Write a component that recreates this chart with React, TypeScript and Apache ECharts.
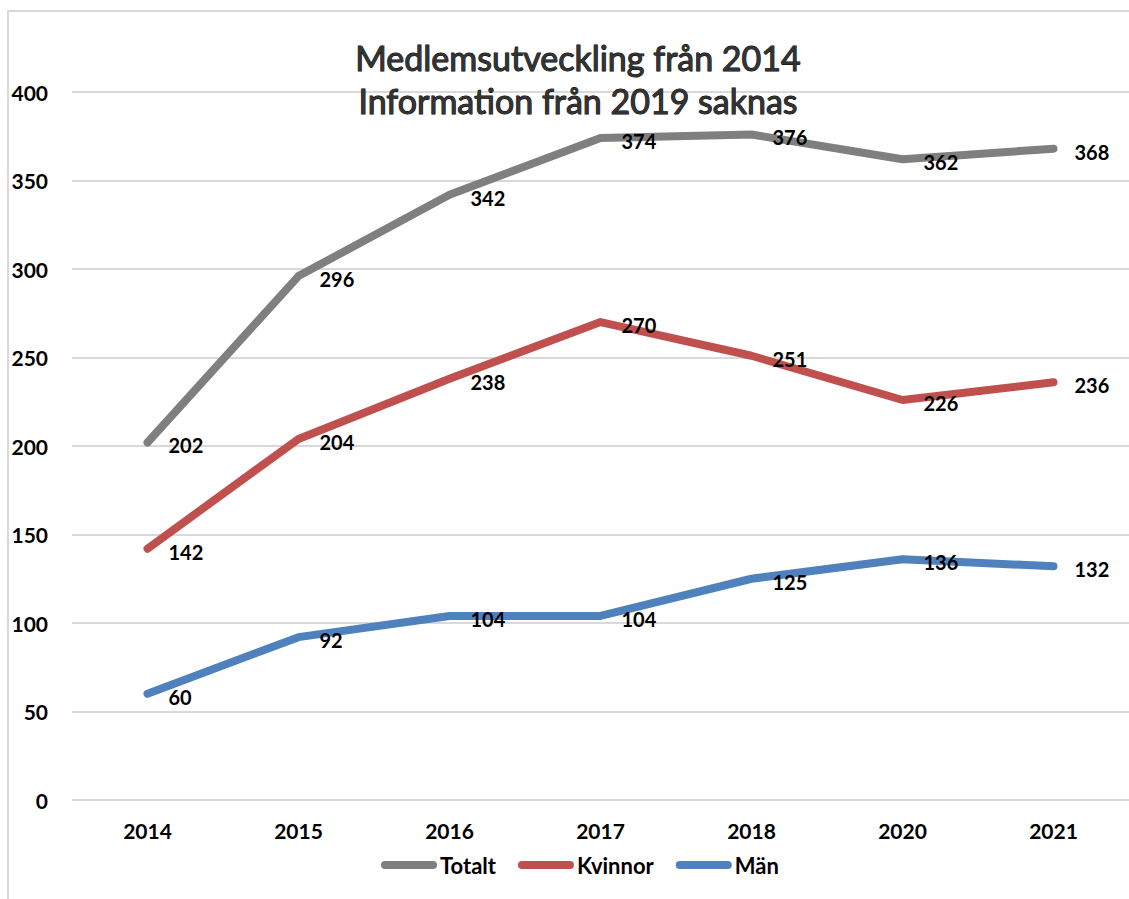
import React, { useEffect, useRef } from "react";
import * as echarts from "echarts";

const years = ["2014", "2015", "2016", "2017", "2018", "2020", "2021"];
const totalt = [202, 296, 342, 374, 376, 362, 368];
const kvinnor = [142, 204, 238, 270, 251, 226, 236];
const man = [60, 92, 104, 104, 125, 136, 132];

const FONT = "Lato, 'Noto Sans', sans-serif";

export default function App() {
  const ref = useRef<HTMLDivElement>(null);
  useEffect(() => {
    if (!ref.current) return;
    const chart = echarts.init(ref.current, null, { renderer: "svg" });
    const mk = (name: string, data: number[], color: string) => ({
      name,
      type: "line",
      data,
      symbol: "circle",
      symbolSize: 0,
      showSymbol: true,
      lineStyle: { color, width: 8, cap: "round", join: "round" },
      itemStyle: { color },
      label: {
        show: true,
        position: "right",
        distance: 21,
        offset: [0, 3],
        color: "#000",
        fontFamily: FONT,
        fontWeight: "bold",
        fontSize: 20,
      },
    });
    chart.setOption({
      animation: false,
      backgroundColor: "#fff",
      title: {
        text: "Medlemsutveckling från 2014\nInformation från 2019 saknas",
        left: 573,
        textAlign: "center",
        top: 31,
        textStyle: {
          fontFamily: FONT,
          fontWeight: "normal",
          fontSize: 34,
          lineHeight: 43,
          color: "#333",
          textBorderColor: "#000",
          textBorderWidth: 1,
        },
      },
      legend: {
        bottom: 18,
        left: 376,
        itemWidth: 56,
        itemHeight: 8,
        itemGap: 22,
        icon: "path://M4,0 H52 A4,4 0 0 1 52,8 H4 A4,4 0 0 1 4,0 Z",
        textStyle: { fontFamily: FONT, fontWeight: "bold", fontSize: 22, color: "#000", padding: [0, 0, 0, -2] },
        data: ["Totalt", "Kvinnor", "Män"],
      },
      grid: { left: 72, top: 92, width: 1061, height: 708, containLabel: false },
      xAxis: {
        type: "category",
        data: years,
        axisLine: { show: false },
        axisTick: { show: false },
        axisLabel: { fontFamily: FONT, fontWeight: "bold", fontSize: 21, color: "#000", margin: 20 },
      },
      yAxis: {
        type: "value",
        min: 0,
        max: 400,
        interval: 50,
        axisLine: { show: false },
        axisTick: { show: false },
        splitLine: { lineStyle: { color: "#d9d9d9", width: 2 } },
        axisLabel: { fontFamily: FONT, fontWeight: "bold", fontSize: 21, color: "#000", margin: 24 },
      },
      graphic: [
        {
          type: "rect",
          shape: { x: 8, y: 11, width: 1140, height: 900 },
          style: { fill: "none", stroke: "#d9d9d9", lineWidth: 2 },
          silent: true,
        },
      ],
      series: [mk("Totalt", totalt, "#7f7f7f"), mk("Kvinnor", kvinnor, "#c0504d"), mk("Män", man, "#4f81bd")],
    });
    return () => chart.dispose();
  }, []);
  return <div ref={ref} style={{ width: 1129, height: 899, position: "absolute", left: 0, top: 0 }} />;
}
